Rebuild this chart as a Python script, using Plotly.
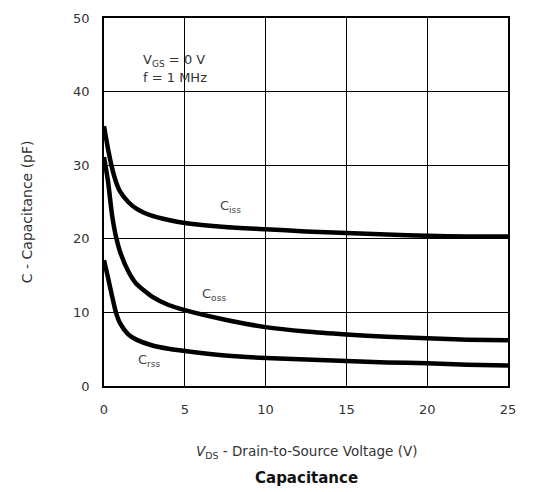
import plotly.graph_objects as go

# Drain-to-source voltage (V)
vds = [0, 0.25, 0.5, 0.75, 1.0, 1.5, 2, 3, 4, 5, 7.5, 10, 12.5, 15, 17.5, 20, 22.5, 25]

# Capacitances (pF)
ciss = [35.3, 32.2, 29.6, 27.7, 26.4, 25.0, 24.1, 23.1, 22.55, 22.15, 21.6, 21.3, 21.0, 20.8, 20.6, 20.4, 20.3, 20.3]
coss = [31.1, 27.8, 23.2, 20.2, 18.2, 15.6, 13.9, 12.1, 11.0, 10.3, 9.0, 8.0, 7.4, 7.0, 6.7, 6.5, 6.3, 6.2]
crss = [17.1, 14.7, 12.2, 9.9, 8.5, 7.0, 6.3, 5.5, 5.05, 4.75, 4.15, 3.8, 3.6, 3.4, 3.2, 3.1, 2.9, 2.8]

x_ticks = [0, 5, 10, 15, 20, 25]
y_ticks = [0, 10, 20, 30, 40, 50]

FONT = "DejaVu Sans, Arial, sans-serif"
TXT = "#333333"

fig = go.Figure()
for ys in (ciss, coss, crss):
    fig.add_trace(go.Scatter(
        x=vds, y=ys, mode="lines",
        line=dict(color="black", width=4.5, shape="spline", smoothing=0.6),
        showlegend=False, hoverinfo="skip",
    ))

# Curve labels
labels = [
    (7.8, 24.4, "C<sub>iss</sub>"),
    (6.8, 12.4, "C<sub>oss</sub>"),
    (2.8, 3.4, "C<sub>rss</sub>"),
]
for x, y, t in labels:
    fig.add_annotation(x=x, y=y, text=t, showarrow=False,
                       font=dict(family=FONT, size=13, color="#444"))

# Test conditions
fig.add_annotation(x=2.3, y=44.2, text="V<sub>GS</sub> = 0 V", showarrow=False,
                   xanchor="left", font=dict(family=FONT, size=13, color=TXT))
fig.add_annotation(x=2.3, y=41.9, text="f = 1 MHz", showarrow=False,
                   xanchor="left", font=dict(family=FONT, size=13, color=TXT))

# Axis titles and caption
fig.add_annotation(xref="paper", yref="paper", x=0.5, y=-0.179, yanchor="middle",
                   text="<i>V</i><sub>DS</sub> - Drain-to-Source Voltage (V)",
                   showarrow=False, font=dict(family=FONT, size=13.5, color=TXT))
fig.add_annotation(xref="paper", yref="paper", x=0.5, y=-0.25, yanchor="middle",
                   text="<b>Capacitance</b>", showarrow=False,
                   font=dict(family=FONT, size=15, color="#111"))
fig.add_annotation(xref="paper", yref="paper", x=-0.19, y=0.473,
                   xanchor="center", yanchor="middle",
                   text="C - Capacitance (pF)", textangle=-90, showarrow=False,
                   font=dict(family=FONT, size=14, color=TXT))

axis_common = dict(
    showgrid=True, gridcolor="black", gridwidth=1.3,
    showline=True, linecolor="black", linewidth=1.8, mirror=True,
    zeroline=False, ticks="", ticklabelstandoff=10,
    tickfont=dict(family=FONT, size=13, color=TXT),
)

fig.update_xaxes(range=[0, 25], tickvals=x_ticks, **axis_common)
fig.update_yaxes(range=[0, 50], tickvals=y_ticks, **axis_common)

fig.update_layout(
    width=533, height=492,
    margin=dict(l=104, r=25, t=18, b=106),
    paper_bgcolor="white", plot_bgcolor="white",
    font=dict(family=FONT, color=TXT),
)

fig.write_html("out.html")
